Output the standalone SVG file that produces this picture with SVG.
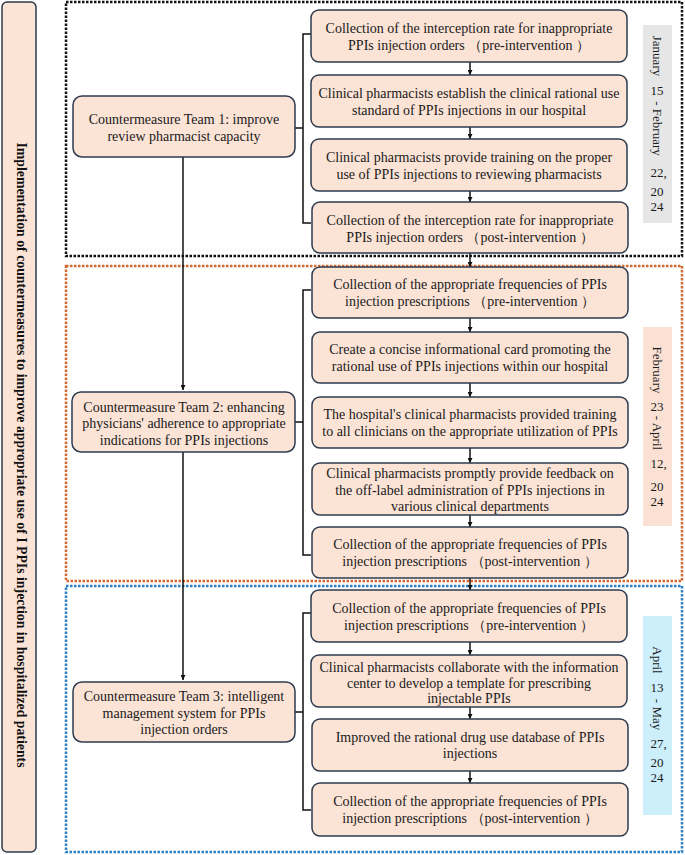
<svg xmlns="http://www.w3.org/2000/svg" width="685" height="855" viewBox="0 0 685 855">
<style>
.node{fill:#fbe3d6;stroke:#2e3b4e;stroke-width:1.5}
.t{font-family:"Liberation Serif","Times New Roman",serif;font-size:14px;fill:#1a1a1a;text-anchor:middle}
.d{font-family:"Liberation Serif","Times New Roman",serif;font-size:13px;fill:#1a1a1a;text-anchor:middle}
.title{font-family:"Liberation Serif","Times New Roman",serif;font-size:13.8px;font-weight:bold;fill:#111;text-anchor:middle}
.conn{fill:none;stroke:#111;stroke-width:1.5}
.arr{fill:none;stroke:#111;stroke-width:1.5;marker-end:url(#ah)}
.frame{fill:none;stroke-width:2.5;stroke-dasharray:2.5 1.5}
</style>
<defs>
<marker id="ah" viewBox="0 0 10 10" refX="10" refY="5" markerWidth="5" markerHeight="5" orient="auto" markerUnits="userSpaceOnUse">
<path d="M0,0 L10,5 L0,10 z" fill="#111"/>
</marker>
</defs>
<rect width="685" height="855" fill="#fff"/>

<g id="frames">
<rect class="frame" x="66" y="2" width="616" height="254" stroke="#111"/>
<rect class="frame" x="66" y="266" width="616" height="315" stroke="#d2692e"/>
<rect class="frame" x="66" y="586" width="616" height="266" stroke="#2b80c8"/>
</g>

<g id="title">
<rect x="2" y="2" width="34" height="850" rx="5" class="node"/>
<text class="title" transform="translate(21,455) rotate(90)" y="4.5">Implementation of countermeasures to improve appropriate use of I PPIs injection in hospitalized patients</text>
</g>

<g id="connectors">
<path class="arr" d="M183,157 V390"/>
<path class="arr" d="M183,452 V680"/>
<path class="conn" d="M295,128 H303 M311,34 H303 V223 H311"/>
<path class="conn" d="M295,422 H303 M311,290 H303 V555 H311"/>
<path class="conn" d="M295,712 H303 M311,613 H303 V810 H311"/>
<path class="arr" d="M470,62 V75"/>
<path class="arr" d="M470,127 V139"/>
<path class="arr" d="M470,191 V202"/>
<path class="arr" d="M470,253 V267"/>
<path class="arr" d="M470,318 V332"/>
<path class="arr" d="M470,383 V397"/>
<path class="arr" d="M470,448 V463"/>
<path class="arr" d="M470,515 V527"/>
<path class="arr" d="M470,578 V590"/>
<path class="arr" d="M470,642 V655"/>
<path class="arr" d="M470,707 V719"/>
<path class="arr" d="M470,771 V783"/>
</g>

<g id="team1">
<rect class="node" x="73" y="96" width="222" height="61" rx="9"/>
<text class="t" x="184" y="123.5">Countermeasure Team 1: improve</text>
<text class="t" x="184" y="140.5">review pharmacist capacity</text>
</g>
<g id="team2">
<rect class="node" x="72" y="392" width="223" height="60" rx="9"/>
<text class="t" x="184" y="411.5">Countermeasure Team 2: enhancing</text>
<text class="t" x="184" y="428">physicians' adherence to appropriate</text>
<text class="t" x="184" y="444.5">indications for PPIs injections</text>
</g>
<g id="team3">
<rect class="node" x="73" y="682" width="222" height="60" rx="9"/>
<text class="t" x="184" y="700.5">Countermeasure Team 3: intelligent</text>
<text class="t" x="184" y="717.5">management system for PPIs</text>
<text class="t" x="184" y="733.5">injection orders</text>
</g>

<g id="s1a">
<rect class="node" x="311" y="10" width="316" height="52" rx="8"/>
<text class="t" x="469" y="32.5">Collection of the interception rate for inappropriate</text>
<text class="t" x="469" y="49.5">PPIs injection orders （pre-intervention ）</text>
</g>
<g id="s1b">
<rect class="node" x="311" y="75" width="316" height="52" rx="8"/>
<text class="t" x="469" y="97.5">Clinical pharmacists establish the clinical rational use</text>
<text class="t" x="469" y="114.5">standard of PPIs injections in our hospital</text>
</g>
<g id="s1c">
<rect class="node" x="311" y="139" width="316" height="52" rx="8"/>
<text class="t" x="469" y="161.5">Clinical pharmacists provide training on the proper</text>
<text class="t" x="469" y="178.5">use of PPIs injections to reviewing pharmacists</text>
</g>
<g id="s1d">
<rect class="node" x="312" y="202" width="316" height="51" rx="8"/>
<text class="t" x="470" y="224.5">Collection of the interception rate for inappropriate</text>
<text class="t" x="470" y="241.5">PPIs injection orders （post-intervention ）</text>
</g>

<g id="s2a">
<rect class="node" x="312" y="267" width="316" height="51" rx="8"/>
<text class="t" x="470" y="289">Collection of the appropriate frequencies of PPIs</text>
<text class="t" x="470" y="306">injection prescriptions （pre-intervention ）</text>
</g>
<g id="s2b">
<rect class="node" x="312" y="332" width="316" height="51" rx="8"/>
<text class="t" x="470" y="354">Create a concise informational card promoting the</text>
<text class="t" x="470" y="371">rational use of PPIs injections within our hospital</text>
</g>
<g id="s2c">
<rect class="node" x="312" y="397" width="316" height="51" rx="8"/>
<text class="t" x="470" y="419">The hospital's clinical pharmacists provided training</text>
<text class="t" x="470" y="436">to all clinicians on the appropriate utilization of PPIs</text>
</g>
<g id="s2d">
<rect class="node" x="312" y="463" width="316" height="52" rx="8"/>
<text class="t" x="470" y="477.5">Clinical pharmacists promptly provide feedback on</text>
<text class="t" x="470" y="494.5">the off-label administration of PPIs injections in</text>
<text class="t" x="470" y="511">various clinical departments</text>
</g>
<g id="s2e">
<rect class="node" x="312" y="527" width="316" height="51" rx="8"/>
<text class="t" x="470" y="549">Collection of the appropriate frequencies of PPIs</text>
<text class="t" x="470" y="566">injection prescriptions （post-intervention ）</text>
</g>

<g id="s3a">
<rect class="node" x="311" y="590" width="316" height="52" rx="8"/>
<text class="t" x="469" y="612.5">Collection of the appropriate frequencies of PPIs</text>
<text class="t" x="469" y="629.5">injection prescriptions （pre-intervention ）</text>
</g>
<g id="s3b">
<rect class="node" x="311" y="655" width="316" height="52" rx="8"/>
<text class="t" x="469" y="671.5">Clinical pharmacists collaborate with the information</text>
<text class="t" x="469" y="687.5">center to develop a template for prescribing</text>
<text class="t" x="469" y="703">injectable PPIs</text>
</g>
<g id="s3c">
<rect class="node" x="312" y="719" width="316" height="52" rx="8"/>
<text class="t" x="470" y="741.5">Improved the rational drug use database of PPIs</text>
<text class="t" x="470" y="758">injections</text>
</g>
<g id="s3d">
<rect class="node" x="312" y="783" width="316" height="53" rx="8"/>
<text class="t" x="470" y="805.5">Collection of the appropriate frequencies of PPIs</text>
<text class="t" x="470" y="822.5">injection prescriptions （post-intervention ）</text>
</g>

<g id="date1">
<rect x="643" y="25" width="29" height="198" fill="#e6e6e6"/>
<text class="d" transform="translate(657,56) rotate(90)" y="4.5">January</text>
<text class="d" x="657" y="94.5">15</text>
<text class="d" transform="translate(657,128.5) rotate(90)" y="4.5">- February</text>
<text class="d" x="658.5" y="176.5">22,</text>
<text class="d" x="657" y="196">20</text>
<text class="d" x="657" y="211">24</text>
</g>
<g id="date2">
<rect x="643" y="327" width="29" height="199" fill="#fbe1d4"/>
<text class="d" transform="translate(657,370) rotate(90)" y="4.5">February</text>
<text class="d" x="657" y="410.5">23</text>
<text class="d" transform="translate(657,433) rotate(90)" y="4.5">- April</text>
<text class="d" x="658.5" y="467.5">12,</text>
<text class="d" x="657" y="491">20</text>
<text class="d" x="657" y="506">24</text>
</g>
<g id="date3">
<rect x="643" y="616" width="29" height="199" fill="#cdeefb"/>
<text class="d" transform="translate(657,660) rotate(90)" y="4.5">April</text>
<text class="d" x="657" y="691.5">13</text>
<text class="d" transform="translate(657,714.5) rotate(90)" y="4.5">- May</text>
<text class="d" x="658.5" y="747.5">27,</text>
<text class="d" x="657" y="767">20</text>
<text class="d" x="657" y="782">24</text>
</g>
</svg>
